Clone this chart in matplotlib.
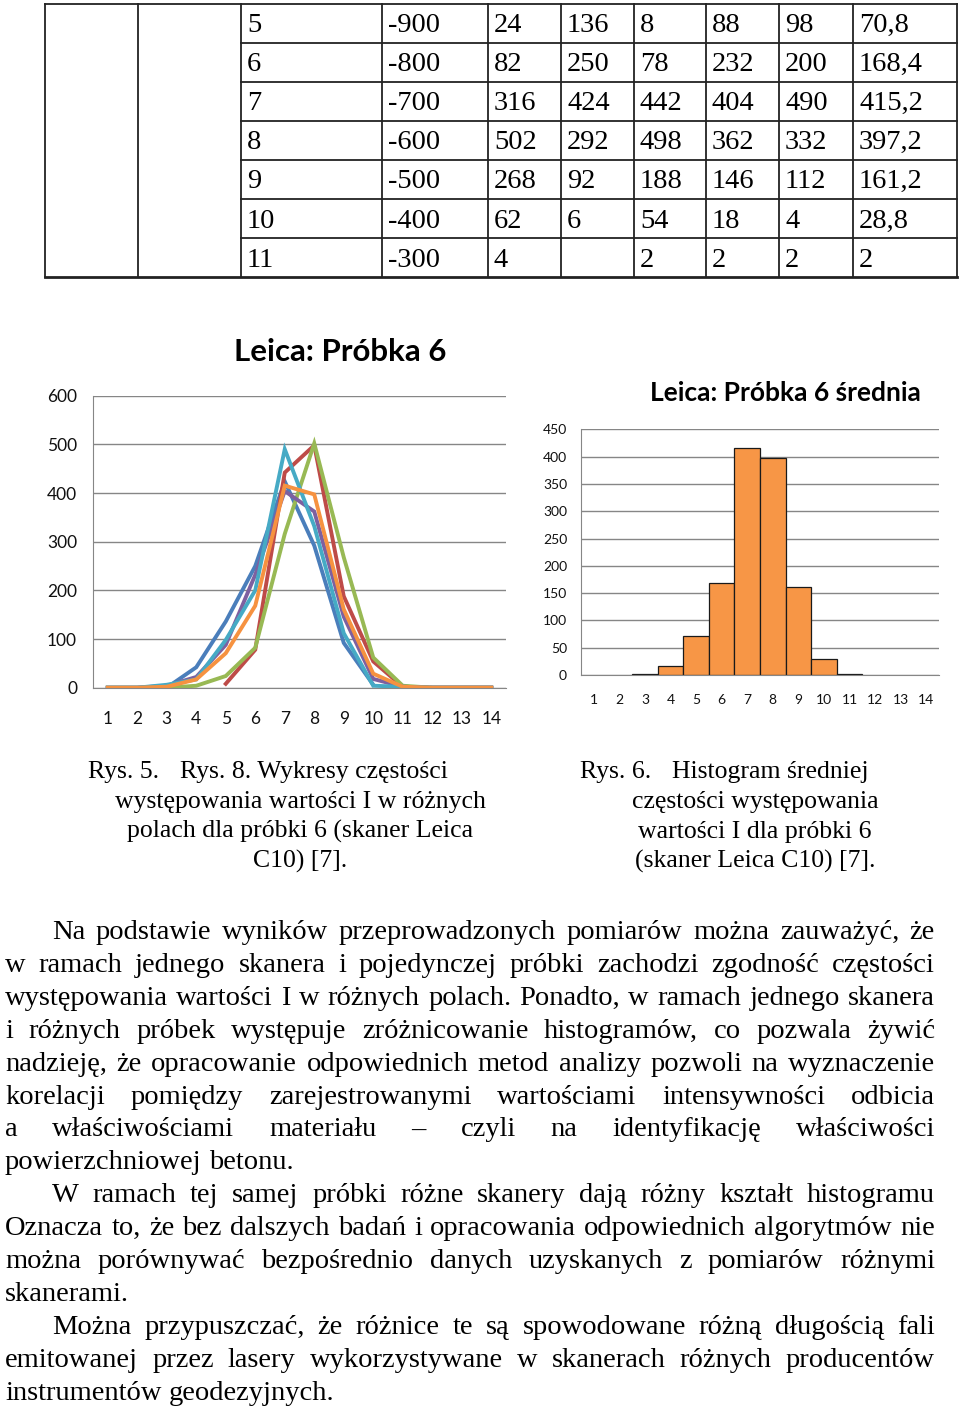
import numpy as np
import matplotlib
matplotlib.use("Agg")
import matplotlib.pyplot as plt

nan = np.nan

# Dane: klasy 1-14, pola 1-5 i srednia (wiersze 1-4 i 12-14)
classes = list(range(1, 15))
i_values = [-1300, -1200, -1100, -1000, -900, -800, -700, -600, -500, -400, -300, -200, -100, 0]
field1 = [0, 0, 0, 4, 24, 82, 316, 502, 268, 62, 4, 0, 0, 0]
field2 = [0, 0, 0, 42, 136, 250, 424, 292, 92, 6, nan, 0, 0, 0]
field3 = [nan, nan, nan, nan, 8, 78, 442, 498, 188, 54, 2, 0, 0, 0]
field4 = [0, 0, 4, 22, 88, 232, 404, 362, 146, 18, 2, 0, 0, 0]
field5 = [0, 0, 6, 17, 98, 200, 490, 332, 112, 4, 2, 0, 0, 0]
mean = [0, 0, 2, 17, 70.8, 168.4, 415.2, 397.2, 161.2, 28.8, 2, 0, 0, 0]

table_rows = range(4, 11)  # wiersze 5-11 widoczne w tabeli

left_yticks = [0, 100, 200, 300, 400, 500, 600]
right_yticks = [0, 50, 100, 150, 200, 250, 300, 350, 400, 450]

title_left = "Leica: Próbka 6"
title_right = "Leica: Próbka 6 średnia"

caption_left = ["występowania wartości I w różnych",
                "polach dla próbki 6 (skaner Leica",
                "C10) [7]."]
caption_right = ["częstości występowania",
                 "wartości I dla próbki 6",
                 "(skaner Leica C10) [7]."]

paragraph = [
    ("Na podstawie wyników przeprowadzonych pomiarów można zauważyć, że", 52, True),
    ("w ramach jednego skanera i pojedynczej próbki zachodzi zgodność częstości", 5, True),
    ("występowania wartości I w różnych polach. Ponadto, w ramach jednego skanera", 5, True),
    ("i różnych próbek występuje zróżnicowanie histogramów, co pozwala żywić", 5, True),
    ("nadzieję, że opracowanie odpowiednich metod analizy pozwoli na wyznaczenie", 5, True),
    ("korelacji pomiędzy zarejestrowanymi wartościami intensywności odbicia", 5, True),
    ("a właściwościami materiału – czyli na identyfikację właściwości", 5, True),
    ("powierzchniowej betonu.", 5, False),
    ("W ramach tej samej próbki różne skanery dają różny kształt histogramu", 52, True),
    ("Oznacza to, że bez dalszych badań i opracowania odpowiednich algorytmów nie", 5, True),
    ("można porównywać bezpośrednio danych uzyskanych z pomiarów różnymi", 5, True),
    ("skanerami.", 5, False),
    ("Można przypuszczać, że różnice te są spowodowane różną długością fali", 52, True),
    ("emitowanej przez lasery wykorzystywane w skanerach różnych producentów", 5, True),
    ("instrumentów geodezyjnych.", 5, False),
]

W, H = 960, 1410
SERIF = "Liberation Serif"
SANS = "Lato"
GRID = "#868686"


def px_axes(fig, x0, y0, x1, y1):
    # prostokat w pikselach (od gory) -> osie
    return fig.add_axes([x0 / W, 1 - y1 / H, (x1 - x0) / W, (y1 - y0) / H])


def fmt(v):
    if np.isnan(v):
        return ""
    return f"{v:g}".replace(".", ",")


def style_chart(ax, ymax, yticks, fs, ypad, xpad):
    ax.set_xlim(0.5, 14.5)
    ax.set_ylim(0, ymax)
    ax.set_xticks(classes)
    ax.set_yticks(yticks)
    ax.grid(axis="y", color=GRID, lw=1.0)
    ax.set_axisbelow(True)
    for s in ["top", "right"]:
        ax.spines[s].set_visible(False)
    ax.spines["left"].set_color(GRID)
    ax.spines["bottom"].set_color(GRID)
    ax.tick_params(axis="both", length=0, labelsize=fs, colors="#111111")
    ax.tick_params(axis="y", pad=ypad)
    ax.tick_params(axis="x", pad=xpad)
    for lab in ax.get_xticklabels() + ax.get_yticklabels():
        lab.set_fontfamily(SANS)


def main():
    fig = plt.figure(figsize=(W / 100, H / 100), dpi=100)
    page = fig.add_axes([0, 0, 1, 1])
    page.set_xlim(0, W)
    page.set_ylim(H, 0)
    page.axis("off")
    renderer = fig.canvas.get_renderer()

    # Tabela
    col_x = [45, 138, 241, 382, 488, 561, 634, 706, 779, 853, 957]
    row_top = 3.5
    row_h = 39.1
    n_rows = len(table_rows)
    bottom = row_top + n_rows * row_h
    line_kw = dict(color="#222222", lw=1.3)
    page.plot([col_x[0], col_x[-1]], [row_top, row_top], **line_kw)
    page.plot([col_x[0], col_x[-1]], [bottom, bottom], color="#222222", lw=2.0)
    for x in col_x:
        page.plot([x, x], [row_top, bottom], **line_kw)
    for r in range(1, n_rows):
        y = row_top + r * row_h
        page.plot([col_x[2], col_x[-1]], [y, y], **line_kw)
    for r, idx in enumerate(table_rows):
        cells = [str(classes[idx]), str(i_values[idx]), fmt(field1[idx]), fmt(field2[idx]),
                 fmt(field3[idx]), fmt(field4[idx]), fmt(field5[idx]), fmt(mean[idx])]
        yb = row_top + 28.5 + r * row_h
        for c, txt in enumerate(cells):
            page.text(col_x[c + 2] + 6, yb, txt, fontsize=20.5, family=SERIF,
                      va="baseline", ha="left")

    # Wykres liniowy
    ax1 = px_axes(fig, 93, 395.7, 506, 687.7)
    series = [(field2, "#4A7EBB"), (field3, "#BE4B48"), (field1, "#98B954"),
              (field4, "#7D60A0"), (field5, "#46AAC5"), (mean, "#F69240")]
    for vals, col in series:
        ax1.plot(classes, vals, color=col, lw=2.8, solid_joinstyle="miter")
    style_chart(ax1, 600, left_yticks, 12.5, 11.5, 17)
    page.text(340, 352, title_left, fontsize=22.5, family=SANS, weight="bold",
              ha="center", va="center")

    # Histogram sredniej
    ax2 = px_axes(fig, 581, 429.3, 939, 675)
    cats = [c for c, v in zip(classes, mean) if v > 0]
    vals = [v for v in mean if v > 0]
    ax2.bar(cats, vals, width=1.0, color="#F79646", edgecolor="#1a1a1a", lw=0.9)
    style_chart(ax2, 450, right_yticks, 10, 10, 14)
    page.text(785, 393, title_right, fontsize=19, family=SANS, weight="bold",
              ha="center", va="center")

    # Podpisy
    cap = dict(fontsize=18.5, family=SERIF, va="baseline")
    page.text(88, 778, "Rys. 5.", ha="left", **cap)
    page.text(180, 778, "Rys. 8. Wykresy częstości", ha="left", **cap)
    for k, line in enumerate(caption_left):
        page.text(300, 808 + 30 * k, line, ha="center", **cap)
    page.text(580, 778, "Rys. 6.", ha="left", **cap)
    page.text(672, 778, "Histogram średniej", ha="left", **cap)
    for k, line in enumerate(caption_right):
        page.text(755, 808 + 30 * k, line, ha="center", **cap)

    # Tekst akapitu, wyjustowany
    txt = dict(fontsize=20.5, family=SERIF, va="baseline", ha="left")
    t1 = page.text(0, -100, "a a", **txt)
    t2 = page.text(0, -100, "aa", **txt)
    space = t1.get_window_extent(renderer).width - t2.get_window_extent(renderer).width
    t1.remove()
    t2.remove()
    right_edge = 935
    for k, (line, x0, just) in enumerate(paragraph):
        y = 939 + 32.9 * k
        words = line.split()
        arts = [page.text(0, y, w, **txt) for w in words]
        widths = [a.get_window_extent(renderer).width for a in arts]
        gap = space
        if just and len(words) > 1:
            gap = (right_edge - x0 - sum(widths)) / (len(words) - 1)
        x = x0
        for a, w in zip(arts, widths):
            a.set_x(x)
            x += w + gap

    fig.savefig("out.png", dpi=100)


if __name__ == "__main__":
    main()
